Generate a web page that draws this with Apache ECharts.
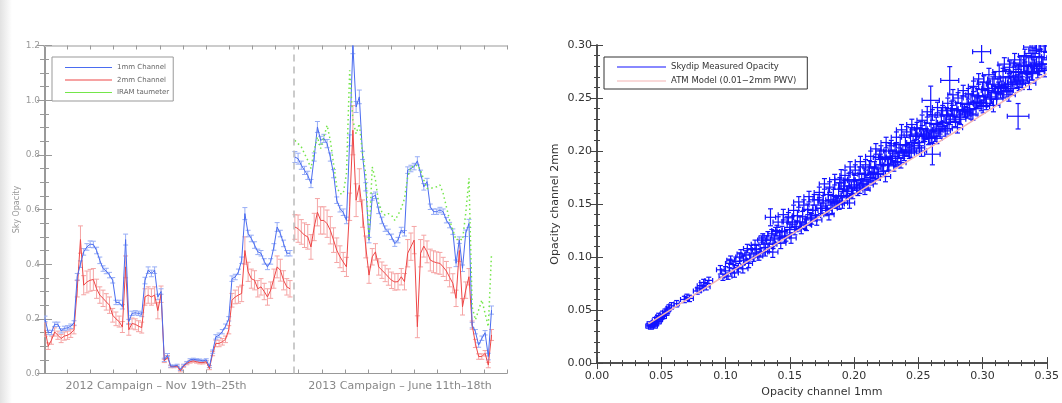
<!DOCTYPE html>
<html>
<head>
<meta charset="utf-8">
<title>Sky opacity</title>
<script src="https://cdn.jsdelivr.net/npm/echarts@6/dist/echarts.min.js"></script>
<style>
  html, body { margin: 0; padding: 0; background: #fff; }
  #main { width: 1062px; height: 403px; }
</style>
</head>
<body>
<div id="main"></div>
<script>
// ---- left panel: sky opacity per skydip, two campaigns ----
const blue2012 = [0.20,0.15,0.15,0.18,0.18,0.156,0.165,0.167,0.173,0.185,
  0.354,0.40,0.445,0.463,0.473,0.472,0.45,0.414,0.384,0.375,
  0.36,0.341,0.26,0.26,0.244,0.49,0.19,0.22,0.222,0.22,
  0.216,0.34,0.378,0.366,0.378,0.28,
  0.30,0.05,0.067,0.027,0.027,0.03,0.015,0.03,0.04,0.05,
  0.052,0.05,0.049,0.046,0.05,0.025,0.08,0.134,0.14,0.153,
  0.173,0.20,0.347,0.353,0.372,0.414,0.585,0.512,0.494,0.47,
  0.445,0.44,0.41,0.39,0.41,0.463,0.536,0.512,0.476,0.44,0.44];
const blueErr2012 = [0.01,0.008,0.008,0.008,0.008,0.008,0.008,0.008,0.008,0.008,
  0.012,0.012,0.012,0.012,0.012,0.012,0.012,0.012,0.01,0.01,
  0.01,0.01,0.008,0.008,0.008,0.02,0.008,0.008,0.008,0.008,
  0.008,0.012,0.012,0.012,0.012,0.01,
  0.01,0.006,0.006,0.004,0.004,0.004,0.004,0.004,0.004,0.004,
  0.004,0.004,0.004,0.004,0.004,0.004,0.006,0.008,0.008,0.008,
  0.008,0.008,0.01,0.01,0.01,0.012,0.022,0.012,0.012,0.012,
  0.01,0.01,0.01,0.01,0.01,0.012,0.016,0.012,0.012,0.01,0.01];
const red2012 = [0.16,0.10,0.122,0.152,0.14,0.128,0.137,0.14,0.147,0.16,
  0.31,0.49,0.323,0.335,0.341,0.344,0.31,0.287,0.275,0.262,
  0.25,0.213,0.20,0.19,0.17,0.39,0.16,0.183,0.18,0.173,
  0.168,0.28,0.287,0.28,0.287,0.23,
  0.29,0.046,0.06,0.025,0.025,0.027,0.01,0.027,0.037,0.043,
  0.046,0.043,0.04,0.04,0.043,0.018,0.073,0.11,0.11,0.116,
  0.125,0.16,0.268,0.28,0.287,0.293,0.45,0.372,0.347,0.341,
  0.31,0.317,0.30,0.28,0.305,0.347,0.39,0.378,0.341,0.317,0.31];
const redErr2012 = [0.025,0.012,0.015,0.015,0.015,0.015,0.015,0.015,0.015,0.015,
  0.03,0.05,0.035,0.04,0.04,0.04,0.035,0.03,0.03,0.03,
  0.03,0.025,0.025,0.02,0.02,0.04,0.02,0.02,0.02,0.02,
  0.02,0.03,0.03,0.03,0.03,0.03,
  0.03,0.006,0.006,0.004,0.004,0.004,0.004,0.004,0.005,0.005,
  0.005,0.005,0.005,0.005,0.005,0.004,0.008,0.012,0.012,0.012,
  0.012,0.015,0.025,0.025,0.03,0.03,0.05,0.035,0.035,0.035,
  0.03,0.03,0.03,0.03,0.03,0.035,0.04,0.04,0.035,0.03,0.03];

const blue2013 = [0.792,0.786,0.762,0.743,0.725,0.695,0.792,0.902,0.853,0.86,
  0.841,0.792,0.731,0.634,0.603,0.59,0.56,0.853,1.2,0.975,
  1.012,0.798,0.683,0.488,0.646,0.652,0.597,0.56,0.53,0.518,
  0.50,0.475,
  0.488,0.525,0.513,0.744,0.75,0.757,0.778,0.732,0.683,0.702,
  0.61,0.592,0.592,0.598,0.592,0.561,0.543,0.519,0.403,0.488,
  0.385,0.513,0.549,0.177,0.153,0.104,0.129,0.149,0.062,0.232];
const blueErr2013 = [0.02,0.02,0.015,0.015,0.015,0.015,0.015,0.02,0.015,0.015,
  0.015,0.015,0.015,0.012,0.012,0.012,0.012,0.02,0.03,0.02,
  0.025,0.015,0.015,0.01,0.012,0.012,0.012,0.012,0.01,0.01,
  0.01,0.01,
  0.01,0.01,0.01,0.012,0.012,0.012,0.015,0.012,0.012,0.012,
  0.01,0.01,0.01,0.01,0.01,0.01,0.01,0.01,0.012,0.012,
  0.012,0.012,0.015,0.01,0.008,0.008,0.008,0.008,0.012,0.015];
const red2013 = [0.536,0.53,0.518,0.506,0.50,0.463,0.536,0.59,0.56,0.56,
  0.548,0.524,0.488,0.451,0.427,0.408,0.39,0.61,0.89,0.634,
  0.689,0.585,0.463,0.36,0.427,0.445,0.39,0.378,0.366,0.353,
  0.341,0.335,
  0.336,0.354,0.336,0.44,0.464,0.488,0.171,0.44,0.466,0.445,
  0.415,0.409,0.405,0.403,0.39,0.375,0.352,0.33,0.275,0.45,
  0.244,0.305,0.354,0.177,0.11,0.062,0.062,0.074,0.031,0.141];
const redErr2013 = [0.045,0.05,0.045,0.045,0.045,0.045,0.05,0.05,0.05,0.05,
  0.05,0.05,0.045,0.045,0.04,0.035,0.035,0.05,0.09,0.06,
  0.06,0.05,0.04,0.03,0.03,0.03,0.03,0.03,0.03,0.03,
  0.03,0.03,
  0.03,0.03,0.03,0.05,0.05,0.05,0.04,0.05,0.04,0.04,
  0.04,0.04,0.04,0.04,0.035,0.035,0.035,0.035,0.03,0.04,
  0.03,0.03,0.03,0.015,0.015,0.01,0.01,0.01,0.01,0.02];
const tau2013 = [0.853,0.841,0.829,0.804,0.78,0.75,0.817,0.865,0.823,0.865,
  0.908,0.853,0.768,0.683,0.658,0.658,0.731,1.109,0.926,0.877,
  0.914,0.804,0.731,0.488,0.756,0.707,0.622,0.59,0.579,0.585,
  0.579,0.56,
  0.58,0.604,0.64,0.72,0.756,0.756,0.763,0.744,0.708,0.677,
  0.677,0.68,0.683,0.69,0.659,0.61,0.561,0.525,0.488,0.494,
  0.488,0.586,0.714,0.244,0.196,0.232,0.269,0.22,0.171,0.44];

const campaignBreak = 77.2;   // dashed separator, in skydip-index units
const start2013 = 77.5;
const campaignLabels = ['2012 Campaign \u2013 Nov 19th\u201325th', '2013 Campaign \u2013 June 11th\u201318th'];

// ---- right panel: [tau 1mm, tau 2mm, err 1mm, err 2mm] ----
const skydip = [
  // low-opacity cluster
  [0.040,0.035,0.002,0.002],[0.041,0.037,0.002,0.002],[0.042,0.034,0.002,0.002],[0.043,0.036,0.002,0.002],
  [0.044,0.038,0.002,0.002],[0.045,0.035,0.002,0.002],[0.045,0.040,0.002,0.003],[0.046,0.037,0.002,0.002],
  [0.047,0.042,0.002,0.003],[0.048,0.039,0.002,0.002],[0.048,0.044,0.002,0.003],[0.049,0.041,0.002,0.002],
  [0.050,0.043,0.002,0.002],[0.051,0.046,0.002,0.003],[0.052,0.044,0.002,0.002],[0.053,0.048,0.002,0.003],
  [0.054,0.047,0.002,0.002],[0.055,0.050,0.002,0.003],[0.056,0.052,0.002,0.003],[0.058,0.054,0.002,0.003],
  [0.062,0.056,0.002,0.003],[0.068,0.060,0.003,0.003],[0.070,0.062,0.002,0.003],[0.072,0.061,0.003,0.003],
  [0.078,0.068,0.003,0.003],[0.080,0.070,0.003,0.003],[0.081,0.073,0.003,0.003],[0.083,0.076,0.003,0.003],
  [0.085,0.072,0.003,0.003],[0.087,0.078,0.003,0.003],
  // 0.10 - 0.14
  [0.096,0.088,0.003,0.004],[0.098,0.081,0.003,0.003],[0.100,0.087,0.003,0.004],[0.102,0.082,0.003,0.003],
  [0.104,0.097,0.003,0.004],[0.106,0.089,0.003,0.004],[0.108,0.096,0.003,0.004],[0.110,0.090,0.003,0.004],
  [0.112,0.103,0.003,0.004],[0.1135,0.089,0.004,0.004],[0.114,0.097,0.003,0.004],[0.116,0.102,0.003,0.004],
  [0.118,0.094,0.003,0.004],[0.120,0.107,0.003,0.004],[0.122,0.100,0.003,0.004],[0.124,0.107,0.003,0.004],
  [0.126,0.101,0.003,0.004],[0.128,0.116,0.003,0.004],[0.130,0.109,0.003,0.004],[0.132,0.116,0.003,0.004],
  [0.134,0.109,0.003,0.004],[0.135,0.1375,0.004,0.008],[0.1368,0.1047,0.004,0.005],[0.136,0.122,0.003,0.004],
  [0.138,0.117,0.003,0.004],
  [0.103,0.094,0.003,0.004],[0.107,0.085,0.003,0.004],[0.111,0.100,0.003,0.004],[0.117,0.108,0.003,0.004],
  [0.119,0.098,0.003,0.004],[0.123,0.112,0.003,0.004],[0.127,0.104,0.003,0.004],[0.129,0.118,0.003,0.004],
  [0.131,0.105,0.003,0.004],[0.133,0.120,0.003,0.004],[0.137,0.112,0.003,0.004],[0.139,0.124,0.003,0.004],
  // dense band 0.14 - 0.35, first pass
  [0.140,0.125,0.004,0.005],[0.142,0.118,0.004,0.005],[0.144,0.124,0.004,0.005],[0.146,0.119,0.004,0.005],
  [0.148,0.133,0.004,0.005],[0.150,0.126,0.004,0.005],[0.152,0.133,0.004,0.005],[0.154,0.126,0.004,0.005],
  [0.156,0.139,0.004,0.005],[0.158,0.133,0.004,0.005],[0.160,0.138,0.004,0.005],[0.162,0.131,0.004,0.005],
  [0.164,0.145,0.004,0.005],[0.166,0.137,0.004,0.005],[0.168,0.144,0.004,0.005],[0.170,0.139,0.004,0.005],
  [0.172,0.154,0.004,0.005],[0.174,0.146,0.004,0.005],[0.176,0.153,0.004,0.005],[0.178,0.146,0.004,0.005],
  [0.180,0.159,0.004,0.006],[0.182,0.154,0.004,0.005],[0.184,0.158,0.004,0.006],[0.186,0.151,0.004,0.005],
  [0.188,0.164,0.004,0.006],[0.190,0.1735,0.005,0.009],[0.190,0.157,0.004,0.005],[0.192,0.164,0.004,0.006],
  [0.194,0.158,0.004,0.005],[0.196,0.173,0.004,0.006],[0.198,0.165,0.004,0.006],[0.200,0.172,0.005,0.006],
  [0.202,0.166,0.005,0.006],[0.204,0.179,0.005,0.006],[0.206,0.173,0.005,0.006],[0.208,0.178,0.005,0.006],
  [0.210,0.171,0.005,0.006],[0.212,0.185,0.005,0.006],[0.214,0.178,0.005,0.006],[0.216,0.184,0.005,0.006],
  [0.218,0.179,0.005,0.006],[0.220,0.194,0.005,0.007],[0.222,0.187,0.005,0.006],[0.224,0.194,0.005,0.007],
  [0.226,0.187,0.005,0.006],[0.228,0.200,0.005,0.007],[0.230,0.195,0.005,0.006],[0.232,0.200,0.005,0.007],
  [0.234,0.193,0.005,0.006],[0.236,0.206,0.005,0.007],[0.238,0.199,0.005,0.006],[0.240,0.206,0.005,0.007],
  [0.242,0.201,0.005,0.006],[0.244,0.215,0.005,0.007],[0.246,0.208,0.005,0.006],[0.248,0.214,0.005,0.007],
  [0.250,0.208,0.005,0.006],[0.252,0.221,0.005,0.007],[0.254,0.215,0.005,0.006],[0.256,0.220,0.005,0.007],
  [0.258,0.212,0.005,0.006],[0.2597,0.2478,0.0067,0.0134],[0.260,0.226,0.005,0.007],[0.261,0.197,0.006,0.010],
  [0.262,0.219,0.005,0.006],[0.264,0.225,0.005,0.007],[0.266,0.220,0.005,0.006],[0.268,0.234,0.005,0.007],
  [0.270,0.227,0.005,0.006],[0.272,0.234,0.005,0.007],[0.274,0.227,0.005,0.006],[0.2745,0.2666,0.007,0.013],
  [0.276,0.240,0.005,0.007],[0.278,0.234,0.005,0.006],[0.280,0.239,0.005,0.007],[0.282,0.232,0.005,0.006],
  [0.284,0.245,0.005,0.007],[0.286,0.238,0.005,0.006],[0.288,0.244,0.005,0.007],[0.290,0.239,0.005,0.006],
  [0.292,0.253,0.005,0.007],[0.294,0.246,0.005,0.006],[0.296,0.252,0.005,0.007],[0.298,0.246,0.005,0.006],
  [0.2993,0.2937,0.007,0.01],[0.300,0.258,0.005,0.007],[0.302,0.252,0.005,0.006],[0.304,0.257,0.005,0.007],
  [0.306,0.249,0.005,0.006],[0.308,0.263,0.005,0.007],[0.310,0.255,0.005,0.006],[0.312,0.261,0.005,0.007],
  [0.314,0.256,0.005,0.006],[0.316,0.270,0.006,0.008],[0.318,0.263,0.005,0.007],[0.320,0.269,0.006,0.008],
  [0.322,0.263,0.005,0.007],[0.324,0.275,0.006,0.008],[0.326,0.270,0.005,0.007],[0.3277,0.2328,0.0084,0.012],
  [0.328,0.274,0.006,0.008],[0.330,0.267,0.005,0.007],[0.332,0.281,0.006,0.008],[0.334,0.273,0.005,0.007],
  [0.336,0.280,0.006,0.008],[0.338,0.274,0.005,0.007],[0.3386,0.292,0.006,0.009],[0.340,0.289,0.006,0.008],
  [0.342,0.282,0.005,0.007],[0.344,0.288,0.006,0.008],[0.346,0.282,0.005,0.007],[0.348,0.294,0.006,0.008],
  // dense band, second pass (wider scatter)
  [0.141,0.133,0.004,0.005],[0.143,0.113,0.004,0.005],[0.145,0.140,0.004,0.005],[0.147,0.120,0.004,0.005],
  [0.149,0.137,0.004,0.005],[0.151,0.118,0.004,0.005],[0.153,0.144,0.004,0.005],[0.155,0.129,0.004,0.005],
  [0.157,0.152,0.004,0.005],[0.159,0.127,0.004,0.005],[0.161,0.149,0.004,0.005],[0.163,0.130,0.004,0.005],
  [0.165,0.157,0.004,0.005],[0.167,0.136,0.004,0.005],[0.169,0.154,0.004,0.005],[0.171,0.135,0.004,0.005],
  [0.173,0.161,0.004,0.005],[0.175,0.146,0.004,0.005],[0.177,0.169,0.004,0.005],[0.179,0.144,0.004,0.005],
  [0.181,0.166,0.004,0.005],[0.183,0.146,0.004,0.005],[0.185,0.173,0.004,0.005],[0.187,0.153,0.004,0.005],
  [0.189,0.170,0.004,0.005],[0.191,0.151,0.004,0.005],[0.193,0.177,0.004,0.005],[0.195,0.162,0.004,0.005],
  [0.197,0.185,0.004,0.005],[0.199,0.160,0.004,0.005],[0.201,0.182,0.004,0.005],[0.203,0.163,0.004,0.005],
  [0.205,0.190,0.004,0.005],[0.207,0.169,0.004,0.005],[0.209,0.187,0.004,0.005],[0.211,0.168,0.004,0.005],
  [0.213,0.195,0.004,0.005],[0.215,0.180,0.004,0.005],[0.217,0.202,0.004,0.005],[0.219,0.178,0.004,0.005],
  [0.221,0.200,0.004,0.005],[0.223,0.181,0.004,0.005],[0.225,0.208,0.004,0.005],[0.227,0.187,0.004,0.005],
  [0.229,0.205,0.004,0.005],[0.231,0.186,0.004,0.005],[0.233,0.213,0.004,0.005],[0.235,0.198,0.004,0.005],
  [0.237,0.220,0.004,0.005],[0.239,0.196,0.004,0.005],[0.241,0.218,0.004,0.005],[0.243,0.198,0.004,0.005],
  [0.245,0.225,0.004,0.005],[0.247,0.205,0.004,0.005],[0.249,0.222,0.004,0.005],[0.251,0.203,0.004,0.005],
  [0.253,0.229,0.004,0.005],[0.255,0.214,0.004,0.005],[0.257,0.237,0.004,0.005],[0.259,0.212,0.004,0.005],
  [0.261,0.234,0.004,0.005],[0.263,0.214,0.004,0.005],[0.265,0.241,0.004,0.005],[0.267,0.221,0.004,0.005],
  [0.269,0.238,0.004,0.005],[0.271,0.219,0.004,0.005],[0.273,0.245,0.004,0.005],[0.275,0.230,0.004,0.005],
  [0.277,0.253,0.004,0.005],[0.279,0.228,0.004,0.005],[0.281,0.250,0.004,0.005],[0.283,0.230,0.004,0.005],
  [0.285,0.257,0.004,0.005],[0.287,0.237,0.004,0.005],[0.289,0.254,0.004,0.005],[0.291,0.235,0.004,0.005],
  [0.293,0.261,0.004,0.005],[0.295,0.246,0.004,0.005],[0.297,0.268,0.004,0.005],[0.299,0.243,0.004,0.005],
  [0.301,0.265,0.005,0.006],[0.303,0.245,0.005,0.006],[0.305,0.272,0.005,0.006],[0.307,0.251,0.005,0.006],
  [0.309,0.268,0.005,0.006],[0.311,0.249,0.005,0.006],[0.313,0.275,0.005,0.006],[0.315,0.260,0.005,0.006],
  [0.317,0.282,0.005,0.006],[0.319,0.257,0.005,0.006],[0.321,0.279,0.005,0.006],[0.323,0.259,0.005,0.006],
  [0.325,0.286,0.005,0.006],[0.327,0.266,0.005,0.006],[0.329,0.283,0.005,0.006],[0.331,0.264,0.005,0.006],
  [0.333,0.290,0.005,0.006],[0.335,0.275,0.005,0.006],[0.337,0.298,0.005,0.006],[0.339,0.273,0.005,0.006],
  [0.341,0.295,0.005,0.006],[0.343,0.275,0.005,0.006],[0.345,0.302,0.005,0.006],[0.347,0.282,0.005,0.006],
  [0.349,0.299,0.005,0.006],
  // dense band, third pass (lower side, near the model line)
  [0.1805,0.140,0.004,0.005],[0.1845,0.152,0.004,0.005],[0.1885,0.150,0.004,0.005],[0.1925,0.167,0.004,0.005],
  [0.1965,0.151,0.004,0.005],[0.2005,0.168,0.004,0.005],[0.2045,0.165,0.004,0.005],[0.2085,0.164,0.004,0.005],
  [0.2125,0.175,0.004,0.005],[0.2165,0.174,0.004,0.005],[0.2205,0.192,0.004,0.005],[0.2245,0.176,0.004,0.005],
  [0.2285,0.193,0.004,0.005],[0.2325,0.190,0.004,0.005],[0.2365,0.189,0.004,0.005],[0.2405,0.200,0.004,0.005],
  [0.2445,0.199,0.004,0.005],[0.2485,0.216,0.004,0.005],[0.2525,0.200,0.004,0.005],[0.2565,0.216,0.004,0.005],
  [0.2605,0.213,0.004,0.005],[0.2645,0.212,0.004,0.005],[0.2685,0.223,0.004,0.005],[0.2725,0.221,0.004,0.005],
  [0.2765,0.238,0.004,0.005],[0.2805,0.222,0.004,0.005],[0.2845,0.239,0.004,0.005],[0.2885,0.236,0.004,0.005],
  [0.2925,0.234,0.004,0.005],[0.2965,0.245,0.004,0.005],[0.3005,0.242,0.005,0.006],[0.3045,0.259,0.005,0.006],
  [0.3085,0.243,0.005,0.006],[0.3125,0.259,0.005,0.006],[0.3165,0.256,0.005,0.006],[0.3205,0.253,0.005,0.006],
  [0.3245,0.265,0.005,0.006],[0.3285,0.263,0.005,0.006],[0.3325,0.280,0.005,0.006],[0.3365,0.264,0.005,0.006],
  [0.3405,0.280,0.005,0.006],[0.3445,0.278,0.005,0.006],[0.3485,0.276,0.005,0.006]
];
const atmX = [0.04, 0.10, 0.16, 0.22, 0.28, 0.35];
const atmY = [0.037, 0.083, 0.128, 0.174, 0.219, 0.273];

// ---- helpers ----
function vErr(color) {
  return function (params, api) {
    const x = api.value(0), y = api.value(1), e = api.value(2);
    const t = api.coord([x, y + e]), b = api.coord([x, y - e]);
    const w = 2.5, st = { stroke: color, lineWidth: 1 };
    return { type: 'group', children: [
      { type: 'line', shape: { x1: t[0], y1: t[1], x2: b[0], y2: b[1] }, style: st },
      { type: 'line', shape: { x1: t[0] - w, y1: t[1], x2: t[0] + w, y2: t[1] }, style: st },
      { type: 'line', shape: { x1: b[0] - w, y1: b[1], x2: b[0] + w, y2: b[1] }, style: st }
    ] };
  };
}
function crossErr(color) {
  return function (params, api) {
    const x = api.value(0), y = api.value(1), ex = api.value(2), ey = api.value(3);
    const l = api.coord([x - ex, y]), r = api.coord([x + ex, y]);
    const t = api.coord([x, y + ey]), b = api.coord([x, y - ey]);
    const w = 2.5, st = { stroke: color, lineWidth: 1.2 };
    return { type: 'group', children: [
      { type: 'line', shape: { x1: l[0], y1: l[1], x2: r[0], y2: r[1] }, style: st },
      { type: 'line', shape: { x1: t[0], y1: t[1], x2: b[0], y2: b[1] }, style: st },
      { type: 'line', shape: { x1: l[0], y1: l[1] - w, x2: l[0], y2: l[1] + w }, style: st },
      { type: 'line', shape: { x1: r[0], y1: r[1] - w, x2: r[0], y2: r[1] + w }, style: st },
      { type: 'line', shape: { x1: t[0] - w, y1: t[1], x2: t[0] + w, y2: t[1] }, style: st },
      { type: 'line', shape: { x1: b[0] - w, y1: b[1], x2: b[0] + w, y2: b[1] }, style: st }
    ] };
  };
}

const x2012 = blue2012.map((v, i) => i);
const x2013 = blue2013.map((v, j) => start2013 + j);
const pairs = (xs, ys) => xs.map((x, i) => [x, ys[i]]);
const triples = (xs, ys, es) => xs.map((x, i) => [x, ys[i], es[i]]);

const BLUE = '#4a6cf0', BLUE_ERR = '#98aef6';
const RED = '#ee4646', RED_ERR = '#f5a4a4';
const GREEN = '#74e64a';
const SKY = '#1212ff', ATM = '#f4b4b4';

const leftTick = { inside: true, length: 4, lineStyle: { color: '#999' } };
const rightTick = { inside: true, length: 6, lineStyle: { color: '#444' } };
const rightMinor = { show: true, splitNumber: 5, length: 3, lineStyle: { color: '#444' } };

let myChart = echarts.init(document.getElementById('main'));
myChart.setOption({
  animation: false,
  backgroundColor: '#fff',
  grid: [
    { left: 44, top: 45.5, width: 463, height: 328 },
    { left: 597, top: 45, width: 451, height: 320 }
  ],
  xAxis: [
    { gridIndex: 0, type: 'value', min: -0.31, max: 143.3, show: false },
    { gridIndex: 0, type: 'value', min: 0, max: 200, interval: 10, position: 'bottom',
      axisLine: { lineStyle: { color: '#999' } }, axisTick: leftTick,
      axisLabel: { show: false }, splitLine: { show: false } },
    { gridIndex: 0, type: 'value', min: 0, max: 200, interval: 10, position: 'top',
      axisLine: { lineStyle: { color: '#ccc', width: 2 } }, axisTick: leftTick,
      axisLabel: { show: false }, splitLine: { show: false } },
    { gridIndex: 1, type: 'value', min: 0, max: 0.35, interval: 0.05, position: 'bottom',
      name: 'Opacity channel 1mm', nameLocation: 'middle', nameGap: 20,
      nameTextStyle: { fontFamily: 'DejaVu Sans', fontSize: 11, color: '#333' },
      axisLine: { lineStyle: { color: '#444', width: 1.5 } }, axisTick: rightTick, minorTick: rightMinor,
      axisLabel: { formatter: v => v.toFixed(2), fontFamily: 'DejaVu Sans', fontSize: 11, color: '#333', margin: 8 },
      splitLine: { show: false }, minorSplitLine: { show: false } },
    { gridIndex: 1, type: 'value', min: 0, max: 0.35, interval: 0.05, position: 'top',
      axisLine: { lineStyle: { color: '#444', width: 1.5 } }, axisTick: rightTick, minorTick: rightMinor,
      axisLabel: { show: false }, splitLine: { show: false } }
  ],
  yAxis: [
    { gridIndex: 0, type: 'value', min: 0, max: 1.2, interval: 0.2,
      name: 'Sky Opacity', nameLocation: 'middle', nameGap: 23,
      nameTextStyle: { fontFamily: 'DejaVu Sans', fontSize: 8, color: '#999' },
      axisLine: { show: true, lineStyle: { color: '#999' } },
      axisTick: { inside: true, length: 7, lineStyle: { color: '#999' } },
      minorTick: { show: true, splitNumber: 4, length: 4, lineStyle: { color: '#999' } },
      axisLabel: { formatter: v => v.toFixed(1), fontFamily: 'DejaVu Sans', fontSize: 9, color: '#999', margin: 4 },
      splitLine: { show: false }, minorSplitLine: { show: false } },
    { gridIndex: 0, type: 'value', min: 0, max: 1.2, interval: 0.2, position: 'right',
      axisLine: { show: true, lineStyle: { color: '#999' } },
      axisTick: { inside: true, length: 7, lineStyle: { color: '#999' } },
      minorTick: { show: true, splitNumber: 4, length: 4, lineStyle: { color: '#999' } },
      axisLabel: { show: false }, splitLine: { show: false } },
    { gridIndex: 1, type: 'value', min: 0, max: 0.30, interval: 0.05,
      name: 'Opacity channel 2mm', nameLocation: 'middle', nameGap: 36,
      nameTextStyle: { fontFamily: 'DejaVu Sans', fontSize: 11, color: '#333' },
      axisLine: { show: true, lineStyle: { color: '#444', width: 1.5 } }, axisTick: rightTick, minorTick: rightMinor,
      axisLabel: { formatter: v => v.toFixed(2), fontFamily: 'DejaVu Sans', fontSize: 11, color: '#333', margin: 5 },
      splitLine: { show: false }, minorSplitLine: { show: false } },
    { gridIndex: 1, type: 'value', min: 0, max: 0.30, interval: 0.05, position: 'right',
      axisLine: { show: true, lineStyle: { color: '#444', width: 1.5 } }, axisTick: rightTick, minorTick: rightMinor,
      axisLabel: { show: false }, splitLine: { show: false } }
  ],
  legend: [
    { left: 52, top: 57, orient: 'vertical', selectedMode: false,
      data: [{ name: '1mm Channel', icon: 'rect' }, { name: '2mm Channel', icon: 'rect' }, { name: 'IRAM taumeter', icon: 'rect' }],
      itemWidth: 47, itemHeight: 1, itemGap: 3.5,
      borderColor: '#999', borderWidth: 1, padding: [6, 4, 4, 13],
      textStyle: { fontFamily: 'DejaVu Sans', fontSize: 7, lineHeight: 9, color: '#666' } },
    { left: 604, top: 57, orient: 'vertical', selectedMode: false,
      data: [{ name: 'Skydip Measured Opacity', icon: 'rect' }, { name: 'ATM Model (0.01\u22122mm PWV)', icon: 'rect' }],
      itemWidth: 49, itemHeight: 1.2, itemGap: 4,
      borderColor: '#333', borderWidth: 1, padding: [5, 11, 3, 13],
      textStyle: { fontFamily: 'DejaVu Sans', fontSize: 8.5, lineHeight: 10, color: '#333' } }
  ],
  graphic: [
    { type: 'rect', left: 0, top: 0, z: -10, silent: true,
      shape: { width: 12, height: 403 },
      style: { fill: new echarts.graphic.LinearGradient(0, 0, 1, 0, [
        { offset: 0, color: '#e2e2e2' }, { offset: 1, color: '#ffffff' }]) } },
    { type: 'text', x: 156, y: 386, silent: true,
      style: { text: campaignLabels[0], fill: '#888', font: '11px "DejaVu Sans"', align: 'center', verticalAlign: 'middle' } },
    { type: 'text', x: 400, y: 386, silent: true,
      style: { text: campaignLabels[1], fill: '#888', font: '11px "DejaVu Sans"', align: 'center', verticalAlign: 'middle' } }
  ],
  series: [
    { name: '2mm Channel', type: 'custom', xAxisIndex: 0, yAxisIndex: 0, clip: true,
      itemStyle: { color: RED }, encode: { x: 0, y: 1 },
      data: triples(x2012, red2012, redErr2012), renderItem: vErr(RED_ERR) },
    { name: '2mm Channel', type: 'custom', xAxisIndex: 0, yAxisIndex: 0, clip: true,
      itemStyle: { color: RED }, encode: { x: 0, y: 1 },
      data: triples(x2013, red2013, redErr2013), renderItem: vErr(RED_ERR) },
    { name: '2mm Channel', type: 'line', xAxisIndex: 0, yAxisIndex: 0, symbol: 'none',
      color: RED, lineStyle: { color: RED, width: 1 }, data: pairs(x2012, red2012),
      markLine: { silent: true, symbol: 'none', label: { show: false },
        lineStyle: { color: '#bbb', type: [7, 5], width: 1.5 },
        data: [[{ coord: [campaignBreak, 0] }, { coord: [campaignBreak, 1.2] }]] } },
    { name: '2mm Channel', type: 'line', xAxisIndex: 0, yAxisIndex: 0, symbol: 'none',
      color: RED, lineStyle: { color: RED, width: 1 }, data: pairs(x2013, red2013) },
    { name: '1mm Channel', type: 'custom', xAxisIndex: 0, yAxisIndex: 0, clip: true,
      itemStyle: { color: BLUE }, encode: { x: 0, y: 1 },
      data: triples(x2012, blue2012, blueErr2012), renderItem: vErr(BLUE_ERR) },
    { name: '1mm Channel', type: 'custom', xAxisIndex: 0, yAxisIndex: 0, clip: true,
      itemStyle: { color: BLUE }, encode: { x: 0, y: 1 },
      data: triples(x2013, blue2013, blueErr2013), renderItem: vErr(BLUE_ERR) },
    { name: '1mm Channel', type: 'line', xAxisIndex: 0, yAxisIndex: 0, symbol: 'none',
      color: BLUE, lineStyle: { color: BLUE, width: 1 }, data: pairs(x2012, blue2012) },
    { name: '1mm Channel', type: 'line', xAxisIndex: 0, yAxisIndex: 0, symbol: 'none',
      color: BLUE, lineStyle: { color: BLUE, width: 1 }, data: pairs(x2013, blue2013) },
    { name: 'IRAM taumeter', type: 'line', xAxisIndex: 0, yAxisIndex: 0, symbol: 'none',
      color: GREEN, lineStyle: { color: GREEN, width: 1.5, type: [1.5, 3] }, data: pairs(x2013, tau2013) },

    { name: 'Skydip Measured Opacity', type: 'custom', xAxisIndex: 3, yAxisIndex: 2, clip: true,
      itemStyle: { color: SKY }, encode: { x: 0, y: 1 },
      data: skydip, renderItem: crossErr(SKY) },
    { name: 'ATM Model (0.01\u22122mm PWV)', type: 'line', xAxisIndex: 3, yAxisIndex: 2, symbol: 'none',
      color: ATM, lineStyle: { color: ATM, width: 1.5 }, z: 5, data: pairs(atmX, atmY) }
  ]
});
</script>
</body>
</html>
